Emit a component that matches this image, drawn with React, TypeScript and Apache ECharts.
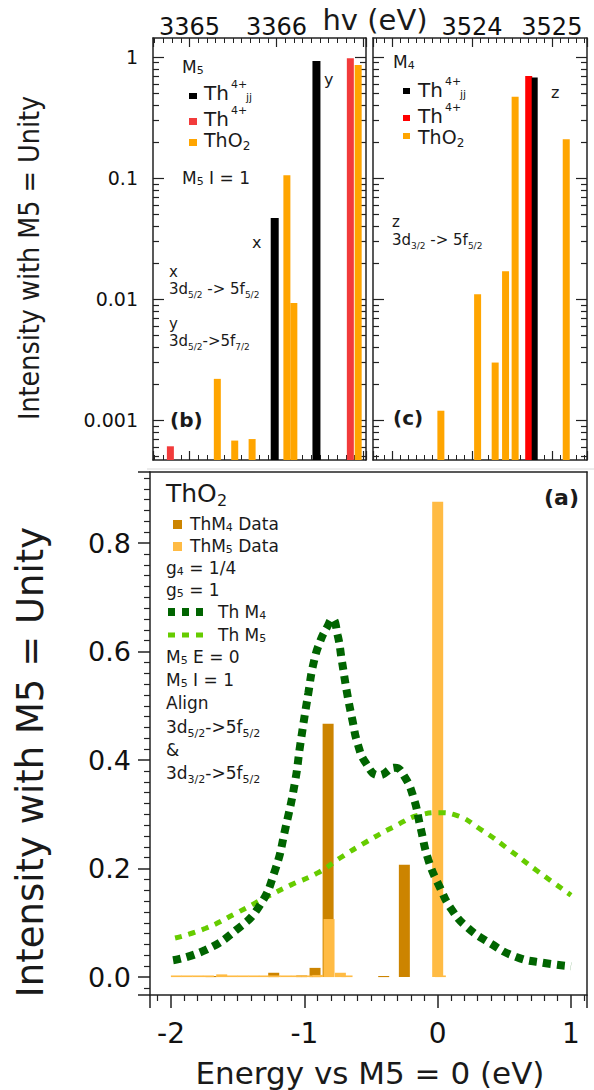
import React, { useEffect, useRef } from 'react';
import * as echarts from 'echarts';

// ---------------- data ----------------
// panel (b): M5 edge, photon energy (eV) vs intensity (log)
const m5EnergyRange = [3364.58, 3367.03];
const m4EnergyRange = [3522.76, 3525.44];
const m5EnergyLabels = [3365, 3366];
const m4EnergyLabels = [3524, 3525];
const logIntensityRange = [0.00047, 1.44];
const decadeTicks = [0.001, 0.01, 0.1, 1];
const logMinorTicks = [
  0.0005, 0.0006, 0.0007, 0.0008, 0.0009,
  0.002, 0.003, 0.004, 0.005, 0.006, 0.007, 0.008, 0.009,
  0.02, 0.03, 0.04, 0.05, 0.06, 0.07, 0.08, 0.09,
  0.2, 0.3, 0.4, 0.5, 0.6, 0.7, 0.8, 0.9,
];
const decadeLabels: Record<string, string> = { '0': '1', '-1': '0.1', '-2': '0.01', '-3': '0.001' };

const m5Th4jj = [[3365.98, 0.047], [3366.46, 0.93]];
const m5Th4 = [[3364.78, 0.00061], [3366.85, 0.98]];
const m5ThO2 = [
  [3365.32, 0.0022], [3365.52, 0.00068], [3365.72, 0.0007],
  [3366.12, 0.106], [3366.2, 0.0093], [3366.94, 0.86],
];

// panel (c): M4 edge
const m4Th4 = [[3524.71, 0.7]];
const m4Th4jj = [[3524.785, 0.68]];
const m4ThO2 = [
  [3523.61, 0.0012], [3524.07, 0.011], [3524.29, 0.003], [3524.42, 0.017],
  [3524.54, 0.47], [3525.18, 0.21],
];

// panel (a): energy relative to M5 = 0
const relEnergyRange = [-2.158, 1.12];
const relEnergyLabels = [-2, -1, 0, 1];
const relIntensityRange = [-0.033, 0.931];
const relIntensityLabels = [0, 0.2, 0.4, 0.6, 0.8];

const thM4Data = [
  [-1.7, 0.002], [-1.23, 0.008], [-1.02, 0.003], [-0.92, 0.017],
  [-0.822, 0.467], [-0.405, 0.002], [-0.25, 0.207],
];
const thM5Data = [
  [-1.96, 0.003], [-1.88, 0.003], [-1.8, 0.003], [-1.72, 0.003], [-1.62, 0.005],
  [-1.54, 0.003], [-1.46, 0.003], [-1.38, 0.003], [-1.3, 0.003], [-1.22, 0.003],
  [-1.14, 0.003], [-1.06, 0.003], [-0.98, 0.003], [-0.9, 0.004], [-0.815, 0.107],
  [-0.73, 0.008], [-0.68, 0.003], [0.0, 0.876], [0.02, 0.003],
];

const thM4Curve = [
  [-1.985, 0.031], [-1.74, 0.05], [-1.51, 0.087], [-1.34, 0.13], [-1.22, 0.197],
  [-1.14, 0.277], [-1.07, 0.36], [-1.03, 0.43], [-0.97, 0.524], [-0.93, 0.58],
  [-0.88, 0.62], [-0.83, 0.645], [-0.79, 0.66], [-0.75, 0.63], [-0.72, 0.585],
  [-0.68, 0.524], [-0.64, 0.474], [-0.6, 0.43], [-0.54, 0.395], [-0.44, 0.372],
  [-0.32, 0.386], [-0.25, 0.37], [-0.18, 0.33], [-0.13, 0.277], [-0.07, 0.216],
  [0.015, 0.166], [0.106, 0.124], [0.22, 0.092], [0.39, 0.063], [0.59, 0.037],
  [0.8, 0.026], [1.0, 0.02],
];
const thM5Curve = [
  [-1.97, 0.072], [-1.74, 0.09], [-1.51, 0.118], [-1.28, 0.148], [-1.1, 0.17],
  [-0.9, 0.192], [-0.73, 0.22], [-0.53, 0.25], [-0.33, 0.277], [-0.13, 0.299],
  [0.015, 0.303], [0.13, 0.299], [0.33, 0.271], [0.54, 0.234], [0.74, 0.197],
  [1.0, 0.151],
];

// ---------------- styling ----------------
const FONT = 'DejaVu Sans, Verdana, sans-serif';
const INK = '#1a1a1a';
const BLACK_BAR = '#000000';
const RED_B = '#f23b3b';
const RED_C = '#ff0000';
const ORANGE = '#ffa500';
const M4_BAR = '#cc8400';
const M5_BAR = '#ffbb44';
const DARK_GREEN = '#006400';
const LIGHT_GREEN = '#66cc00';

function rich(fs: number) {
  const s = Math.round(fs * 0.62);
  return {
    sub: { fontSize: s, fontFamily: FONT, fill: INK, color: INK, padding: [Math.round(fs * 0.75), 0, 0, 0] },
    lo: { fontSize: s, fontFamily: FONT, fill: INK, color: INK, padding: [Math.round(fs * 0.4), 0, 0, 0] },
  };
}

function txt(x: number, y: number, text: string, fs: number, o: any = {}) {
  const el: any = {
    type: 'text',
    x,
    y,
    z: 100,
    style: {
      text,
      fontSize: fs,
      fontFamily: FONT,
      fontWeight: o.bold ? 'bold' : 'normal',
      fill: INK,
      textAlign: o.align || 'left',
      textVerticalAlign: 'middle',
      rich: rich(fs),
    },
  };
  if (o.rotation) el.rotation = o.rotation;
  if (o.scaleX) el.scaleX = o.scaleX;
  return el;
}

// "Th" with a 4+ superscript and optional jj subscript, as separate texts
function thIon(x: number, y: number, jj: boolean) {
  const els = [txt(x, y, 'Th', 20), txt(x + 27, y - 9, '4+', 11)];
  if (jj) els.push(txt(x + 42, y + 4, 'jj', 11));
  return els;
}

// "ThO" with a subscript 2, as separate texts
function thO2(x: number, y: number, fs: number) {
  return [txt(x, y, 'ThO', fs), txt(x + fs * 2.04, y + fs * 0.3, '2', Math.round(fs * 0.62))];
}

function box(x: number, y: number, w: number, h: number, fill: string) {
  return { type: 'rect', z: 100, shape: { x, y, width: w, height: h }, style: { fill } };
}

function dashSample(x1: number, x2: number, y: number, color: string, width: number, dash: number[]) {
  return {
    type: 'line',
    z: 100,
    shape: { x1, y1: y, x2, y2: y },
    style: { stroke: color, lineWidth: width, lineDash: dash },
  };
}

const frameLine = { show: true, onZero: false, lineStyle: { color: '#222', width: 1.5 } };

function inList(list: number[], v: number) {
  return list.some((t) => Math.abs(t - v) < 1e-6);
}

function energyAxis(grid: number, pos: string, range: number[], labels: number[] | null) {
  return {
    type: 'value',
    gridIndex: grid,
    position: pos,
    min: range[0],
    max: range[1],
    splitNumber: 2,
    minInterval: 1,
    maxInterval: 1,
    axisLine: frameLine,
    axisTick: { show: true, inside: true, length: 9, lineStyle: { color: '#222', width: 1.2 } },
    minorTick: { show: true, splitNumber: 10, length: 5, lineStyle: { color: '#222', width: 1 } },
    axisLabel: labels
      ? {
          show: true,
          customValues: labels,
          fontSize: 24,
          fontFamily: FONT,
          color: '#111',
          margin: -1,
          formatter: (v: number) => (inList(labels, v) ? String(Math.round(v)) : ''),
        }
      : { show: false },
    splitLine: { show: false },
  };
}

function logAxis(grid: number, pos: string, ticks: number[], len: number, showLine: boolean, labels: boolean) {
  return {
    type: 'log',
    logBase: 10,
    gridIndex: grid,
    position: pos,
    min: logIntensityRange[0],
    max: logIntensityRange[1],
    axisLine: showLine ? frameLine : { show: false },
    axisTick: { show: true, inside: true, length: len, customValues: ticks, lineStyle: { color: '#222', width: 1.2 } },
    minorTick: { show: false },
    axisLabel: labels
      ? {
          show: true,
          customValues: decadeTicks,
          fontSize: 19,
          fontFamily: FONT,
          color: '#111',
          margin: 15,
          formatter: (v: number) => {
            const e = Math.round(Math.log10(v));
            return Math.abs(Math.log10(v) - e) < 1e-6 ? decadeLabels[String(e)] || '' : '';
          },
        }
      : { show: false },
    splitLine: { show: false },
  };
}

function bars(name: string, data: number[][], xi: number, yi: number, color: string, width: number, base: number) {
  return {
    type: 'custom',
    name,
    coordinateSystem: 'cartesian2d',
    xAxisIndex: xi,
    yAxisIndex: yi,
    data,
    clip: true,
    z: 5,
    renderItem: (_p: any, api: any) => {
      const x = api.value(0);
      const v = api.value(1);
      const top = api.coord([x, v]);
      const bot = api.coord([x, base]);
      return {
        type: 'rect',
        shape: { x: top[0] - width / 2, y: top[1], width, height: Math.max(bot[1] - top[1], 1) },
        style: { fill: color },
      };
    },
  };
}

function buildOption(): any {
  const xAxis = [
    energyAxis(0, 'top', m5EnergyRange, m5EnergyLabels),
    energyAxis(0, 'bottom', m5EnergyRange, null),
    energyAxis(1, 'top', m4EnergyRange, m4EnergyLabels),
    energyAxis(1, 'bottom', m4EnergyRange, null),
    {
      type: 'value',
      gridIndex: 2,
      position: 'bottom',
      min: relEnergyRange[0],
      max: relEnergyRange[1],
      splitNumber: 3,
      minInterval: 1,
      maxInterval: 1,
      axisLine: frameLine,
      axisTick: { show: true, inside: false, length: 13, lineStyle: { color: '#222', width: 1.5 } },
      minorTick: { show: true, splitNumber: 10, length: 6, lineStyle: { color: '#222', width: 1.2 } },
      axisLabel: {
        show: true,
        customValues: relEnergyLabels,
        fontSize: 28,
        fontFamily: FONT,
        color: '#111',
        margin: 24,
        formatter: (v: number) => (inList(relEnergyLabels, v) ? String(Math.round(v)) : ''),
      },
      splitLine: { show: false },
    },
    {
      type: 'value',
      gridIndex: 2,
      position: 'top',
      min: relEnergyRange[0],
      max: relEnergyRange[1],
      axisLine: frameLine,
      axisTick: { show: false },
      axisLabel: { show: false },
      splitLine: { show: false },
    },
  ];

  const yAxis = [
    logAxis(0, 'left', decadeTicks, 11, true, true), // 0
    logAxis(0, 'left', logMinorTicks, 6, false, false), // 1
    logAxis(0, 'right', decadeTicks, 11, true, false), // 2
    logAxis(0, 'right', logMinorTicks, 6, false, false), // 3
    logAxis(1, 'left', decadeTicks, 11, true, false), // 4
    logAxis(1, 'left', logMinorTicks, 6, false, false), // 5
    logAxis(1, 'right', decadeTicks, 11, true, false), // 6
    logAxis(1, 'right', logMinorTicks, 6, false, false), // 7
    {
      type: 'value',
      gridIndex: 2,
      position: 'left',
      min: relIntensityRange[0],
      max: relIntensityRange[1],
      splitNumber: 5,
      minInterval: 0.2,
      maxInterval: 0.2,
      axisLine: frameLine,
      axisTick: { show: true, inside: false, length: 12, lineStyle: { color: '#222', width: 1.5 } },
      minorTick: { show: true, splitNumber: 10, length: 6, lineStyle: { color: '#222', width: 1.2 } },
      axisLabel: {
        show: true,
        customValues: relIntensityLabels,
        fontSize: 27,
        fontFamily: FONT,
        color: '#111',
        margin: 19,
        formatter: (v: number) => (inList(relIntensityLabels, v) ? v.toFixed(1) : ''),
      },
      splitLine: { show: false },
    },
    {
      type: 'value',
      gridIndex: 2,
      position: 'right',
      min: relIntensityRange[0],
      max: relIntensityRange[1],
      axisLine: frameLine,
      axisTick: { show: false },
      axisLabel: { show: false },
      splitLine: { show: false },
    },
  ];

  const lb = logIntensityRange[0];
  const series: any[] = [
    bars('ThO2 M5', m5ThO2, 0, 0, ORANGE, 7, lb),
    bars('Th4+ M5', m5Th4, 0, 0, RED_B, 7, lb),
    bars('Th4+ jj M5', m5Th4jj, 0, 0, BLACK_BAR, 8, lb),
    bars('ThO2 M4', m4ThO2, 2, 4, ORANGE, 7, lb),
    bars('Th4+ M4', m4Th4, 2, 4, RED_C, 7, lb),
    bars('Th4+ jj M4', m4Th4jj, 2, 4, BLACK_BAR, 6, lb),
    bars('ThM4 Data', thM4Data, 4, 8, M4_BAR, 11, 0),
    bars('ThM5 Data', thM5Data, 4, 8, M5_BAR, 11, 0),
    {
      type: 'line',
      name: 'Th M5',
      xAxisIndex: 4,
      yAxisIndex: 8,
      data: thM5Curve,
      smooth: true,
      showSymbol: false,
      symbol: 'none',
      z: 10,
      lineStyle: { color: LIGHT_GREEN, width: 5, type: [7, 7] },
    },
    {
      type: 'line',
      name: 'Th M4',
      xAxisIndex: 4,
      yAxisIndex: 8,
      data: thM4Curve,
      smooth: true,
      showSymbol: false,
      symbol: 'none',
      z: 11,
      lineStyle: { color: DARK_GREEN, width: 8, type: [8, 6] },
    },
  ];

  const graphic: any[] = [
    // top titles
    txt(375, 20, 'hv (eV)', 29, { align: 'center' }),
    txt(29, 258, 'Intensity with M5 = Unity', 29, { align: 'center', rotation: Math.PI / 2, scaleX: 0.88 }),
    // separator
    { type: 'line', z: 1, shape: { x1: 147, y1: 469, x2: 594, y2: 469 }, style: { stroke: '#d8d8d8', lineWidth: 1 } },
    // panel (b)
    txt(182, 67, 'M{lo|5}', 17),
    box(189, 93, 8, 6, BLACK_BAR),
    ...thIon(204, 93, true),
    box(189, 118, 8, 7, RED_B),
    ...thIon(204, 119, false),
    box(189, 139, 8, 7, ORANGE),
    ...thO2(204, 140, 19),
    txt(182, 178, 'M{lo|5} I = 1', 17),
    txt(252, 242, 'x', 16),
    txt(169, 272, 'x', 15),
    txt(169, 289, '3d{sub|5/2} -> 5f{sub|5/2}', 15),
    txt(169, 324, 'y', 15),
    txt(169, 341, '3d{sub|5/2}->5f{sub|7/2}', 15),
    txt(170, 420, '(b)', 20, { bold: true }),
    txt(324, 79, 'y', 16),
    // panel (c)
    txt(393, 62, 'M{lo|4}', 17),
    box(403, 88, 7, 6, BLACK_BAR),
    ...thIon(418, 90, true),
    box(403, 115, 7, 6, RED_C),
    ...thIon(418, 116, false),
    box(403, 133, 7, 6, ORANGE),
    ...thO2(418, 137, 19),
    txt(551, 92, 'z', 16),
    txt(392, 222, 'z', 15),
    txt(392, 240, '3d{sub|3/2} -> 5f{sub|5/2}', 15),
    txt(393, 418, '(c)', 20, { bold: true }),
    // panel (a)
    ...thO2(166, 493, 25),
    box(173, 520, 9, 9, M4_BAR),
    txt(190, 524, 'ThM{lo|4} Data', 17),
    box(173, 542, 9, 9, M5_BAR),
    txt(190, 546, 'ThM{lo|5} Data', 17),
    txt(166, 568, 'g{lo|4} = 1/4', 17),
    txt(166, 590, 'g{lo|5} = 1', 17),
    dashSample(168, 208, 612, DARK_GREEN, 8, [7, 7]),
    txt(218, 612, 'Th M{lo|4}', 17),
    dashSample(168, 208, 635, LIGHT_GREEN, 5, [7, 7]),
    txt(218, 635, 'Th M{lo|5}', 17),
    txt(166, 657, 'M{lo|5} E = 0', 17),
    txt(166, 680, 'M{lo|5} I = 1', 17),
    txt(166, 703, 'Align', 17),
    txt(166, 727, '3d{sub|5/2}->5f{sub|5/2}', 17),
    txt(166, 750, '&', 17),
    txt(166, 773, '3d{sub|3/2}->5f{sub|5/2}', 17),
    txt(579, 497, '(a)', 22, { bold: true, align: 'right' }),
    txt(370, 1073, 'Energy vs M5 = 0 (eV)', 31, { align: 'center' }),
    txt(30, 762, 'Intensity with M5 = Unity', 37, { align: 'center', rotation: Math.PI / 2 }),
  ];

  return {
    animation: false,
    backgroundColor: '#ffffff',
    grid: [
      { left: 153, top: 38, width: 213, height: 422, outerBoundsMode: 'none', containLabel: false },
      { left: 373, top: 38, width: 214, height: 422, outerBoundsMode: 'none', containLabel: false },
      { left: 150, top: 472, width: 437, height: 523, outerBoundsMode: 'none', containLabel: false },
    ],
    xAxis,
    yAxis,
    series,
    graphic,
  };
}

export default function App() {
  const ref = useRef<HTMLDivElement>(null);
  useEffect(() => {
    if (!ref.current) return;
    const chart = echarts.init(ref.current, undefined, { renderer: 'svg' });
    chart.setOption(buildOption());
    return () => chart.dispose();
  }, []);
  return (
    <div
      ref={ref}
      style={{ position: 'fixed', left: 0, top: 0, width: 594, height: 1090, background: '#fff' }}
    />
  );
}
